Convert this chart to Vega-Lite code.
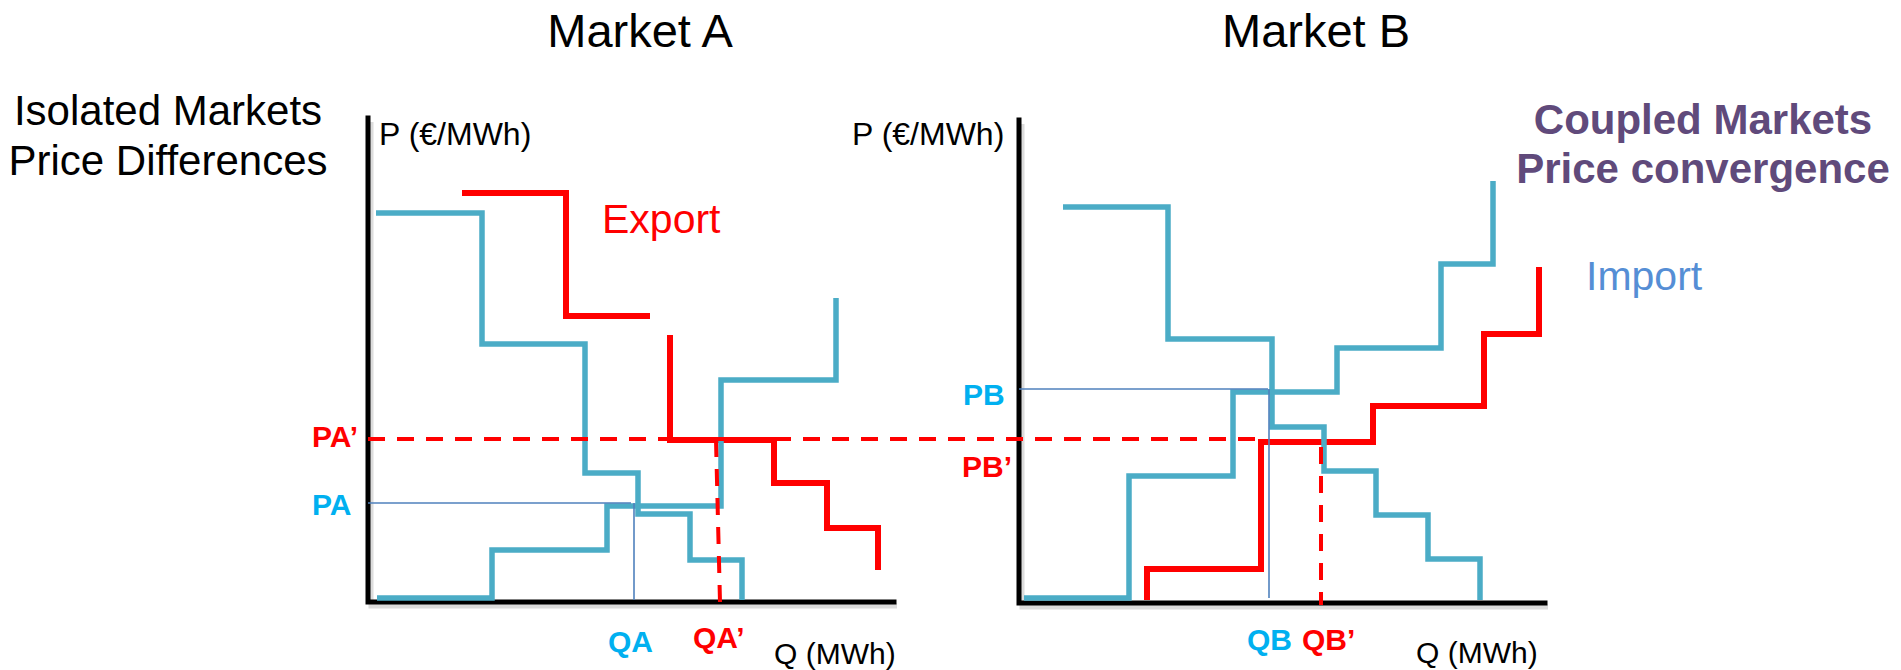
{
  "$schema": "https://vega.github.io/schema/vega-lite/v6.json",
  "width": 1901,
  "height": 670,
  "autosize": {"type": "fit", "contains": "padding"},
  "padding": 0,
  "background": "white",
  "config": {"view": {"stroke": null}, "font": "Liberation Sans"},
  "datasets": {
    "axes": [
      {"id": "A", "i": 0, "q": 0, "p": 484}, {"id": "A", "i": 1, "q": 0, "p": 0}, {"id": "A", "i": 2, "q": 526, "p": 0},
      {"id": "B", "i": 0, "q": 651, "p": 482}, {"id": "B", "i": 1, "q": 651, "p": -1}, {"id": "B", "i": 2, "q": 1177, "p": -1}
    ],
    "blue": [
      {"id": "demandA", "i": 0, "q": 8, "p": 389}, {"id": "demandA", "i": 1, "q": 114, "p": 389}, {"id": "demandA", "i": 2, "q": 114, "p": 258},
      {"id": "demandA", "i": 3, "q": 217, "p": 258}, {"id": "demandA", "i": 4, "q": 217, "p": 129}, {"id": "demandA", "i": 5, "q": 270, "p": 129},
      {"id": "demandA", "i": 6, "q": 270, "p": 88}, {"id": "demandA", "i": 7, "q": 322, "p": 88}, {"id": "demandA", "i": 8, "q": 322, "p": 42},
      {"id": "demandA", "i": 9, "q": 374, "p": 42}, {"id": "demandA", "i": 10, "q": 374, "p": 2},
      {"id": "supplyA", "i": 0, "q": 9, "p": 4}, {"id": "supplyA", "i": 1, "q": 124, "p": 4}, {"id": "supplyA", "i": 2, "q": 124, "p": 52},
      {"id": "supplyA", "i": 3, "q": 239, "p": 52}, {"id": "supplyA", "i": 4, "q": 239, "p": 96}, {"id": "supplyA", "i": 5, "q": 353, "p": 96},
      {"id": "supplyA", "i": 6, "q": 353, "p": 222}, {"id": "supplyA", "i": 7, "q": 468, "p": 222}, {"id": "supplyA", "i": 8, "q": 468, "p": 304},
      {"id": "demandB", "i": 0, "q": 695, "p": 395}, {"id": "demandB", "i": 1, "q": 800, "p": 395}, {"id": "demandB", "i": 2, "q": 800, "p": 263},
      {"id": "demandB", "i": 3, "q": 904, "p": 263}, {"id": "demandB", "i": 4, "q": 904, "p": 175}, {"id": "demandB", "i": 5, "q": 956, "p": 175},
      {"id": "demandB", "i": 6, "q": 956, "p": 131}, {"id": "demandB", "i": 7, "q": 1008, "p": 131}, {"id": "demandB", "i": 8, "q": 1008, "p": 87},
      {"id": "demandB", "i": 9, "q": 1060, "p": 87}, {"id": "demandB", "i": 10, "q": 1060, "p": 43}, {"id": "demandB", "i": 11, "q": 1112, "p": 43},
      {"id": "demandB", "i": 12, "q": 1112, "p": 2},
      {"id": "supplyB", "i": 0, "q": 656, "p": 4}, {"id": "supplyB", "i": 1, "q": 761, "p": 4}, {"id": "supplyB", "i": 2, "q": 761, "p": 126},
      {"id": "supplyB", "i": 3, "q": 865, "p": 126}, {"id": "supplyB", "i": 4, "q": 865, "p": 210}, {"id": "supplyB", "i": 5, "q": 969, "p": 210},
      {"id": "supplyB", "i": 6, "q": 969, "p": 254}, {"id": "supplyB", "i": 7, "q": 1073, "p": 254}, {"id": "supplyB", "i": 8, "q": 1073, "p": 338},
      {"id": "supplyB", "i": 9, "q": 1125, "p": 338}, {"id": "supplyB", "i": 10, "q": 1125, "p": 421}
    ],
    "red": [
      {"id": "exportA1", "i": 0, "q": 94, "p": 409}, {"id": "exportA1", "i": 1, "q": 198, "p": 409}, {"id": "exportA1", "i": 2, "q": 198, "p": 286},
      {"id": "exportA1", "i": 3, "q": 282, "p": 286},
      {"id": "exportA2", "i": 0, "q": 302, "p": 267}, {"id": "exportA2", "i": 1, "q": 302, "p": 162}, {"id": "exportA2", "i": 2, "q": 406, "p": 162},
      {"id": "exportA2", "i": 3, "q": 406, "p": 119}, {"id": "exportA2", "i": 4, "q": 459, "p": 119}, {"id": "exportA2", "i": 5, "q": 459, "p": 74},
      {"id": "exportA2", "i": 6, "q": 510, "p": 74}, {"id": "exportA2", "i": 7, "q": 510, "p": 32},
      {"id": "importB", "i": 0, "q": 779, "p": 2}, {"id": "importB", "i": 1, "q": 779, "p": 33}, {"id": "importB", "i": 2, "q": 893, "p": 33},
      {"id": "importB", "i": 3, "q": 893, "p": 160}, {"id": "importB", "i": 4, "q": 1005, "p": 160}, {"id": "importB", "i": 5, "q": 1005, "p": 196},
      {"id": "importB", "i": 6, "q": 1116, "p": 196}, {"id": "importB", "i": 7, "q": 1116, "p": 268}, {"id": "importB", "i": 8, "q": 1171, "p": 268},
      {"id": "importB", "i": 9, "q": 1171, "p": 335}
    ],
    "thin": [
      {"id": "PA", "i": 0, "q": 0, "p": 99}, {"id": "PA", "i": 1, "q": 263, "p": 99},
      {"id": "QA", "i": 0, "q": 266, "p": 99}, {"id": "QA", "i": 1, "q": 266, "p": 2},
      {"id": "PB", "i": 0, "q": 651, "p": 213}, {"id": "PB", "i": 1, "q": 900, "p": 213},
      {"id": "QB", "i": 0, "q": 901, "p": 213}, {"id": "QB", "i": 1, "q": 901, "p": 4}
    ],
    "dash": [
      {"id": "PAp", "i": 0, "q": 0, "p": 163}, {"id": "PAp", "i": 1, "q": 889, "p": 163},
      {"id": "QAp", "i": 0, "q": 348, "p": 162}, {"id": "QAp", "i": 1, "q": 352, "p": 0},
      {"id": "QBp", "i": 0, "q": 953, "p": 155}, {"id": "QBp", "i": 1, "q": 953, "p": -3}
    ]
  },
  "encoding": {
    "x": {"field": "q", "type": "quantitative", "scale": {"domain": [-368, 1533], "nice": false, "zero": false}, "axis": null},
    "y": {"field": "p", "type": "quantitative", "scale": {"domain": [-68, 602], "nice": false, "zero": false}, "axis": null}
  },
  "layer": [
    {
      "data": {"name": "axes"},
      "mark": {"type": "line", "color": "#c4c4c4", "strokeWidth": 5, "opacity": 0.6, "xOffset": 3, "yOffset": 4, "strokeJoin": "miter"},
      "encoding": {"detail": {"field": "id"}, "order": {"field": "i"}}
    },
    {
      "data": {"name": "axes"},
      "mark": {"type": "line", "color": "#000000", "strokeWidth": 5, "strokeJoin": "miter", "strokeCap": "square"},
      "encoding": {"detail": {"field": "id"}, "order": {"field": "i"}}
    },
    {
      "data": {"name": "red"},
      "mark": {"type": "line", "color": "#FF0000", "strokeWidth": 6, "strokeJoin": "miter", "strokeCap": "butt"},
      "encoding": {"detail": {"field": "id"}, "order": {"field": "i"}}
    },
    {
      "data": {"name": "blue"},
      "mark": {"type": "line", "color": "#4BACC6", "strokeWidth": 5.5, "strokeJoin": "miter", "strokeCap": "butt"},
      "encoding": {"detail": {"field": "id"}, "order": {"field": "i"}}
    },
    {
      "data": {"name": "thin"},
      "mark": {"type": "line", "color": "#4F81BD", "strokeWidth": 1.6},
      "encoding": {"detail": {"field": "id"}, "order": {"field": "i"}}
    },
    {
      "data": {"name": "dash"},
      "mark": {"type": "line", "color": "#FF0000", "strokeWidth": 4, "strokeDash": [17, 12]},
      "encoding": {"detail": {"field": "id"}, "order": {"field": "i"}}
    },
    {
      "data": {"values": [{"t": "Market A", "q": 272, "p": 555}, {"t": "Market B", "q": 948, "p": 555}]},
      "mark": {"type": "text", "fontSize": 47, "align": "center", "baseline": "alphabetic", "color": "#000000"},
      "encoding": {"text": {"field": "t"}}
    },
    {
      "data": {"values": [{"t": "Isolated Markets", "q": -200, "p": 477}, {"t": "Price Differences", "q": -200, "p": 427}]},
      "mark": {"type": "text", "fontSize": 42, "align": "center", "baseline": "alphabetic", "color": "#000000"},
      "encoding": {"text": {"field": "t"}}
    },
    {
      "data": {"values": [{"t": "Coupled Markets", "q": 1335, "p": 468}, {"t": "Price convergence", "q": 1335, "p": 419}]},
      "mark": {"type": "text", "fontSize": 42, "fontWeight": "bold", "align": "center", "baseline": "alphabetic", "color": "#604A7B"},
      "encoding": {"text": {"field": "t"}}
    },
    {
      "data": {"values": [{"t": "P (€/MWh)", "q": 11, "p": 457}, {"t": "P (€/MWh)", "q": 484, "p": 457}]},
      "mark": {"type": "text", "fontSize": 32, "align": "left", "baseline": "alphabetic", "color": "#000000"},
      "encoding": {"text": {"field": "t"}}
    },
    {
      "data": {"values": [{"t": "Q (MWh)", "q": 406, "p": -62}, {"t": "Q (MWh)", "q": 1048, "p": -61}]},
      "mark": {"type": "text", "fontSize": 30, "align": "left", "baseline": "alphabetic", "color": "#000000"},
      "encoding": {"text": {"field": "t"}}
    },
    {
      "data": {"values": [{"t": "Export", "q": 234, "p": 369}]},
      "mark": {"type": "text", "fontSize": 41, "align": "left", "baseline": "alphabetic", "color": "#FF0000"},
      "encoding": {"text": {"field": "t"}}
    },
    {
      "data": {"values": [{"t": "Import", "q": 1218, "p": 312}]},
      "mark": {"type": "text", "fontSize": 41, "align": "left", "baseline": "alphabetic", "color": "#558ED5"},
      "encoding": {"text": {"field": "t"}}
    },
    {
      "data": {"values": [{"t": "PA", "q": -56, "p": 87}, {"t": "PB", "q": 595, "p": 197}, {"t": "QA", "q": 240, "p": -50}, {"t": "QB", "q": 879, "p": -48}]},
      "mark": {"type": "text", "fontSize": 30, "fontWeight": "bold", "align": "left", "baseline": "alphabetic", "color": "#00B0F0"},
      "encoding": {"text": {"field": "t"}}
    },
    {
      "data": {"values": [{"t": "PA’", "q": -56, "p": 155}, {"t": "PB’", "q": 594, "p": 125}, {"t": "QA’", "q": 325, "p": -46}, {"t": "QB’", "q": 934, "p": -48}]},
      "mark": {"type": "text", "fontSize": 30, "fontWeight": "bold", "align": "left", "baseline": "alphabetic", "color": "#FF0000"},
      "encoding": {"text": {"field": "t"}}
    }
  ]
}
